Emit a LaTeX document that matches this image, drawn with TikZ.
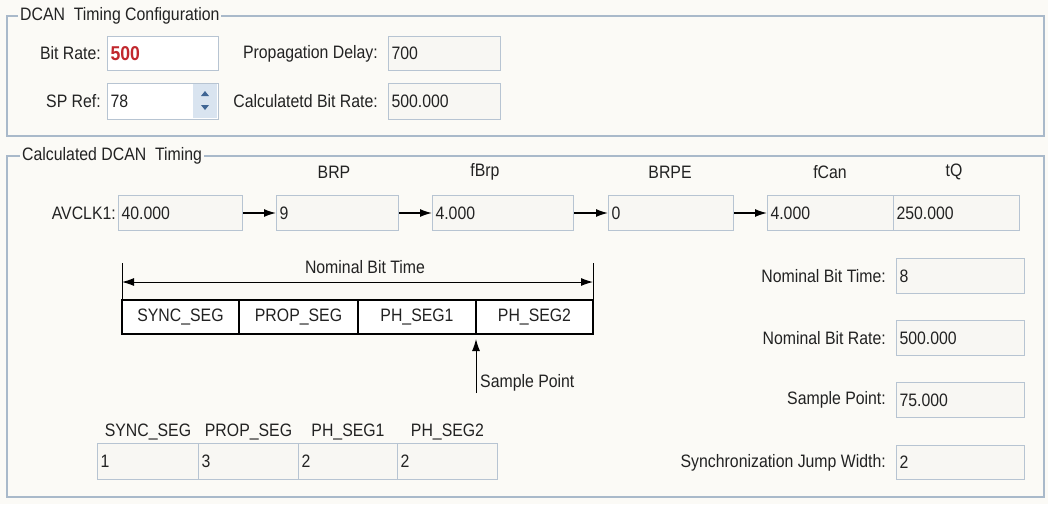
\documentclass[tikz,border=0pt]{standalone}
\usepackage{fontspec}
\setmainfont{Liberation Sans}[FakeStretch=0.88]
\usetikzlibrary{arrows.meta,positioning}

\definecolor{bgclr}{HTML}{FBFAF6}
\definecolor{frameclr}{HTML}{A9B9CA}
\definecolor{boxclr}{HTML}{B7C4D2}
\definecolor{roclr}{HTML}{F8F7F3}
\definecolor{txtclr}{HTML}{222222}
\definecolor{redclr}{HTML}{C1272D}
\definecolor{spinclr}{HTML}{D9E4F0}
\definecolor{triclr}{HTML}{3F6594}

\tikzset{
    frame/.style={draw=frameclr, line width=1.3pt},
    grouptitle/.style={fill=bgclr, anchor=west, inner xsep=2pt, text=txtclr},
    field/.style={draw=boxclr, line width=1pt, fill=roclr, anchor=north west,
                  inner xsep=3pt, inner ysep=0pt, align=left, text=txtclr},
    editfield/.style={field, fill=white},
    lbl/.style={text=txtclr, inner sep=2pt},
    seg/.style={draw=black, line width=1.3pt, fill=white, anchor=north west,
                minimum height=34pt, inner sep=0pt, outer sep=0pt, text=txtclr},
    conn/.style={line width=1.4pt, draw=black, -{Latex[length=12pt,width=8pt]}},
    dimline/.style={line width=1pt, draw=black}
}

\begin{document}
\begin{tikzpicture}[x=1pt, y=-1pt, font=\fontsize{18}{20}\selectfont]
    \useasboundingbox[fill=bgclr] (0,0) rectangle (1048,504);

    % timing configuration group
    \draw[frame] (7,16) rectangle (1044,136);
    \node[grouptitle] (cfgtitle) at (18,16) {DCAN\ \ Timing Configuration};

    \node[editfield, text width=105pt, minimum height=34pt] (bitrate) at (107,36)
        {\textcolor{redclr}{\fontsize{20}{21}\selectfont\bfseries 500}};
    \node[editfield, text width=105pt, minimum height=36pt] (spref) at (107,83) {78};
    \node[field, text width=106pt, minimum height=34pt] (propdelay) at (388,36) {700};
    \node[field, text width=106pt, minimum height=36pt] (calcrate) at (388,83) {500.000};
    \node[lbl, left=4pt of bitrate] (bitratelbl) {Bit Rate:};
    \node[lbl, left=4pt of spref] (spreflbl) {SP Ref:};
    \node[lbl, left=8pt of propdelay] (propdelaylbl) {Propagation Delay:};
    \node[lbl, left=8pt of calcrate] (calcratelbl) {Calculatetd Bit Rate:};

    % spinner
    \fill[spinclr] (193,84) rectangle (217,118);
    \fill[triclr] (201,96) -- (209,96) -- (205,91) -- cycle;
    \fill[triclr] (201,105) -- (209,105) -- (205,110) -- cycle;

    % calculated timing group
    \draw[frame] (7,156) rectangle (1044,497);
    \node[grouptitle] (calctitle) at (20,156) {Calculated DCAN\ \ Timing};

    \node[field, text width=118pt, minimum height=35pt] (avclk) at (118,195) {40.000};
    \node[field, text width=116pt, minimum height=35pt] (brp) at (276,195) {9};
    \node[field, text width=135pt, minimum height=35pt] (fbrp) at (432,195) {4.000};
    \node[field, text width=119pt, minimum height=35pt] (brpe) at (608,195) {0};
    \node[field, text width=120pt, minimum height=35pt] (fcan) at (767,195) {4.000};
    \node[field, text width=120pt, minimum height=35pt] (tq) at (893,195) {250.000};
    \node[lbl, left=0pt of avclk] (avclklbl) {AVCLK1:};
    \node[lbl] (brplbl) at (334,172) {BRP};
    \node[lbl] (fbrplbl) at (485,172) {fBrp};
    \node[lbl] (brpelbl) at (670,172) {BRPE};
    \node[lbl] (fcanlbl) at (830,172) {fCan};
    \node[lbl] (tqlbl) at (954,172) {tQ};
    \draw[conn] (avclk) -- (brp);
    \draw[conn] (brp) -- (fbrp);
    \draw[conn] (fbrp) -- (brpe);
    \draw[conn] (brpe) -- (fcan);

    % bit time diagram
    \node[seg, minimum width=117pt] (syncseg) at (122,300) {SYNC\_SEG};
    \node[seg, minimum width=119pt, right=0pt of syncseg] (propseg) {PROP\_SEG};
    \node[seg, minimum width=118pt, right=0pt of propseg] (phseg1) {PH\_SEG1};
    \node[seg, minimum width=117pt, right=0pt of phseg1] (phseg2) {PH\_SEG2};
    \draw[dimline] (syncseg.north west) -- ++(0,-37);
    \draw[dimline] (phseg2.north east) -- ++(0,-37);
    \draw[dimline, {Latex[length=12pt,width=8pt]}-{Latex[length=12pt,width=8pt]}]
        ([yshift=18pt]syncseg.north west) -- ([yshift=18pt]phseg2.north east);
    \node[lbl] (nbtdim) at (365,267) {Nominal Bit Time};
    \coordinate (sptbase) at ([yshift=-59pt]phseg2.south west);
    \node[lbl, anchor=south west] (sptlbl) at ([xshift=2pt]sptbase) {Sample Point};
    \draw[conn, line width=1pt] (sptbase) -- ([yshift=-5pt]phseg2.south west);

    % segment values
    \node[field, text width=95pt, minimum height=36pt] (syncval) at (97,443) {1};
    \node[field, text width=94pt, minimum height=36pt] (propval) at (198,443) {3};
    \node[field, text width=93pt, minimum height=36pt] (ph1val) at (298,443) {2};
    \node[field, text width=94pt, minimum height=36pt] (ph2val) at (397,443) {2};
    \node[lbl, above=1pt of syncval] (syncvallbl) {SYNC\_SEG};
    \node[lbl, above=1pt of propval] (propvallbl) {PROP\_SEG};
    \node[lbl, above=1pt of ph1val] (ph1vallbl) {PH\_SEG1};
    \node[lbl, above=1pt of ph2val] (ph2vallbl) {PH\_SEG2};

    % results
    \node[field, text width=122pt, minimum height=35pt] (nbt) at (896,258) {8};
    \node[field, text width=122pt, minimum height=35pt] (nbr) at (896,320) {500.000};
    \node[field, text width=122pt, minimum height=35pt] (spt) at (896,382) {75.000};
    \node[field, text width=122pt, minimum height=34pt] (sjw) at (896,445) {2};
    \node[lbl, left=8pt of nbt] (nbtlbl) {Nominal Bit Time:};
    \node[lbl, left=8pt of nbr] (nbrlbl) {Nominal Bit Rate:};
    \node[lbl, left=8pt of spt] (sptvallbl) {Sample Point:};
    \node[lbl, left=8pt of sjw] (sjwlbl) {Synchronization Jump Width:};
\end{tikzpicture}
\end{document}
